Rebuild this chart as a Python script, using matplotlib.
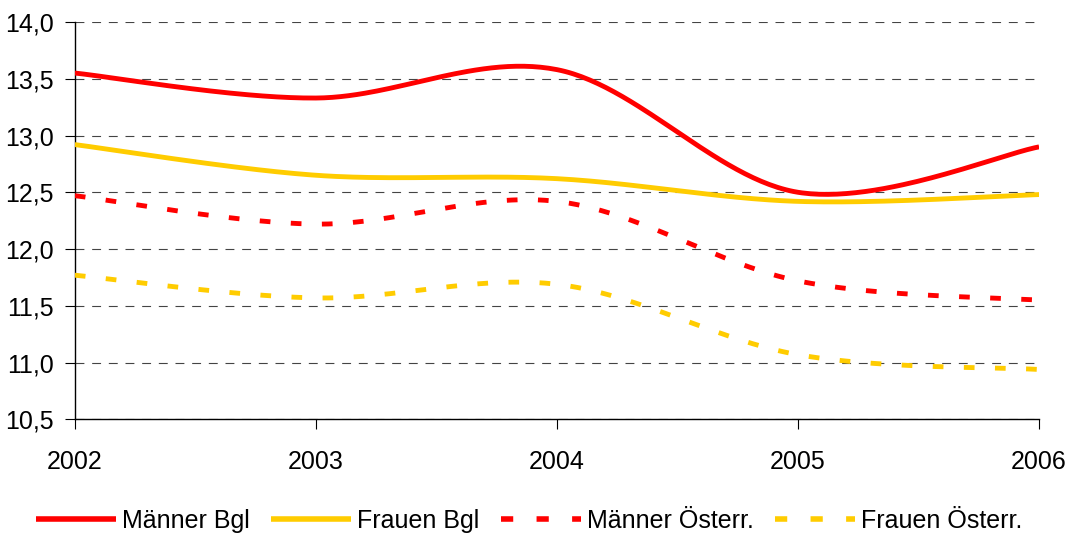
import numpy as np
import matplotlib
matplotlib.use("Agg")
import matplotlib.pyplot as plt
from matplotlib.ticker import FuncFormatter

years = [2002, 2003, 2004, 2005, 2006]
maenner_bgl = [13.55, 13.33, 13.58, 12.50, 12.90]
frauen_bgl = [12.92, 12.65, 12.62, 12.42, 12.48]
maenner_oe = [12.47, 12.22, 12.42, 11.72, 11.55]
frauen_oe = [11.77, 11.57, 11.69, 11.07, 10.94]


def smooth(x, y, n=60):
    # Excel-like smoothed line: cubic Bezier between points
    x = np.asarray(x, float)
    y = np.asarray(y, float)
    px = np.concatenate([[x[0]], x, [x[-1]]])
    py = np.concatenate([[y[0]], y, [y[-1]]])
    t = np.linspace(0, 1, n)
    xs, ys = [], []
    for i in range(1, len(x)):
        p0 = np.array([px[i], py[i]])
        p3 = np.array([px[i + 1], py[i + 1]])
        c1 = p0 + (np.array([px[i + 1], py[i + 1]]) - np.array([px[i - 1], py[i - 1]])) / 6
        c2 = p3 - (np.array([px[i + 2], py[i + 2]]) - np.array([px[i], py[i]])) / 6
        b = ((1 - t) ** 3)[:, None] * p0 + (3 * (1 - t) ** 2 * t)[:, None] * c1 \
            + (3 * (1 - t) * t ** 2)[:, None] * c2 + (t ** 3)[:, None] * p3
        xs.append(b[:, 0])
        ys.append(b[:, 1])
    return np.concatenate(xs), np.concatenate(ys)


plt.rcParams['font.family'] = ['Liberation Sans', 'DejaVu Sans']
fig = plt.figure(figsize=(10.69, 5.35), dpi=100)
ax = fig.add_axes([0.070, 0.216, 0.902, 0.743])

red = '#FF0000'
yellow = '#FFCC00'
series = [
    (maenner_bgl, red, '-', 'Männer Bgl'),
    (frauen_bgl, yellow, '-', 'Frauen Bgl'),
    (maenner_oe, red, (0, (2.2, 4.2)), 'Männer Österr.'),
    (frauen_oe, yellow, (0, (2.2, 4.2)), 'Frauen Österr.'),
]
for vals, col, ls, lab in series:
    sx, sy = smooth(years, vals)
    ax.plot(sx, sy, color=col, lw=3.5, ls=ls, label=lab, solid_capstyle='butt',
            dash_capstyle='butt', zorder=3)

ax.set_xlim(2002, 2006)
ax.set_ylim(10.5, 14.0)
ax.set_xticks(years)
ax.set_yticks(np.arange(10.5, 14.01, 0.5))
ax.yaxis.set_major_formatter(FuncFormatter(lambda v, p: f'{v:.1f}'.replace('.', ',')))
ax.grid(axis='y', color='#444444', ls=(0, (8, 7)), lw=0.8)
ax.set_axisbelow(True)
for s in ['top', 'right']:
    ax.spines[s].set_visible(False)
for s in ['left', 'bottom']:
    ax.spines[s].set_linewidth(1.0)
ax.tick_params(axis='y', direction='out', length=7, pad=8, labelsize=18)
ax.tick_params(axis='x', direction='out', length=7, pad=15, labelsize=18)

leg = fig.legend(loc='center', bbox_to_anchor=(0.495, 0.027), ncol=4, frameon=False,
                 fontsize=18, handlelength=3.2, handletextpad=0.25, columnspacing=0.85)
for h in leg.get_lines():
    h.set_linewidth(4)

fig.savefig('out.png', dpi=100)
